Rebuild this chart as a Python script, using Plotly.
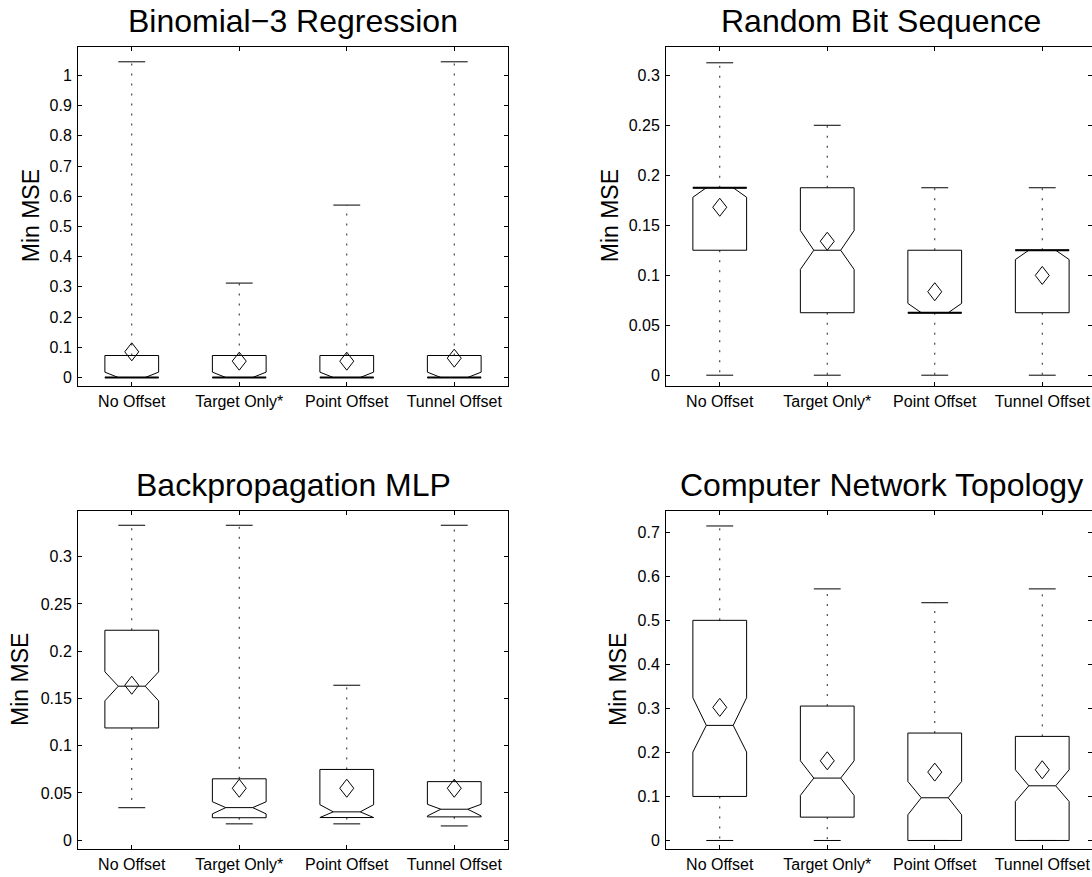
import plotly.graph_objects as go

# ---------------- data ----------------
CATEGORIES = ["No Offset", "Target Only*", "Point Offset", "Tunnel Offset"]
TITLES = ["Binomial\u22123 Regression", "Random Bit Sequence",
          "Backpropagation MLP", "Computer Network Topology"]
Y_LABEL = "Min MSE"

# Binomial-3 Regression
BIN_UPPER = [1.045, 0.3125, 0.5707, 1.045]
BIN_Q3 = [0.0728, 0.0728, 0.0728, 0.0728]
BIN_NOTCH_HI = [0.0177, 0.0177, 0.0177, 0.0177]
BIN_MEDIAN = [0.0, 0.0, 0.0, 0.0]
BIN_NOTCH_LO = [-0.0177, -0.0177, -0.0177, -0.0177]
BIN_Q1 = [0.0, 0.0, 0.0, 0.0]
BIN_LOWER = [0.0, 0.0, 0.0, 0.0]
BIN_MEAN = [0.085, 0.054, 0.054, 0.064]
BIN_YRANGE = [-0.0265, 1.094]
BIN_DTICK = 0.1

# Random Bit Sequence
RBS_UPPER = [0.3125, 0.25, 0.1875, 0.1875]
RBS_Q3 = [0.1875, 0.1875, 0.125, 0.125]
RBS_NOTCH_HI = [0.197, 0.1447, 0.0718, 0.1343]
RBS_MEDIAN = [0.1875, 0.125, 0.0625, 0.125]
RBS_NOTCH_LO = [0.178, 0.1058, 0.0532, 0.1157]
RBS_Q1 = [0.125, 0.0625, 0.0625, 0.0625]
RBS_LOWER = [0.0, 0.0, 0.0, 0.0]
RBS_MEAN = [0.168, 0.134, 0.0835, 0.0998]
RBS_YRANGE = [-0.0103, 0.3283]
RBS_DTICK = 0.05

# Backpropagation MLP
BPM_UPPER = [0.3333, 0.3333, 0.164, 0.3333]
BPM_Q3 = [0.2222, 0.065, 0.0749, 0.062]
BPM_NOTCH_HI = [0.1782, 0.0407, 0.0376, 0.038]
BPM_MEDIAN = [0.163, 0.0345, 0.030, 0.0328]
BPM_NOTCH_LO = [0.1475, 0.0279, 0.0233, 0.0257]
BPM_Q1 = [0.1188, 0.0238, 0.024, 0.0247]
BPM_LOWER = [0.0344, 0.0173, 0.0173, 0.0151]
BPM_MEAN = [0.164, 0.055, 0.055, 0.055]
BPM_YRANGE = [-0.0095, 0.3487]
BPM_DTICK = 0.05

# Computer Network Topology
CNT_UPPER = [0.7143, 0.5714, 0.540, 0.5714]
CNT_Q3 = [0.5, 0.3053, 0.244, 0.2364]
CNT_NOTCH_HI = [0.3242, 0.181, 0.134, 0.1606]
CNT_MEDIAN = [0.2614, 0.1417, 0.097, 0.1242]
CNT_NOTCH_LO = [0.2008, 0.1023, 0.0583, 0.0886]
CNT_Q1 = [0.1, 0.053, 0.0, 0.0]
CNT_LOWER = [0.0, 0.0, 0.0, 0.0]
CNT_MEAN = [0.3023, 0.181, 0.1553, 0.1606]
CNT_YRANGE = [-0.0198, 0.749]
CNT_DTICK = 0.1

PANELS = [
    dict(upper=BIN_UPPER, q3=BIN_Q3, nhi=BIN_NOTCH_HI, med=BIN_MEDIAN, nlo=BIN_NOTCH_LO,
         q1=BIN_Q1, lower=BIN_LOWER, mean=BIN_MEAN, yrange=BIN_YRANGE, dtick=BIN_DTICK),
    dict(upper=RBS_UPPER, q3=RBS_Q3, nhi=RBS_NOTCH_HI, med=RBS_MEDIAN, nlo=RBS_NOTCH_LO,
         q1=RBS_Q1, lower=RBS_LOWER, mean=RBS_MEAN, yrange=RBS_YRANGE, dtick=RBS_DTICK),
    dict(upper=BPM_UPPER, q3=BPM_Q3, nhi=BPM_NOTCH_HI, med=BPM_MEDIAN, nlo=BPM_NOTCH_LO,
         q1=BPM_Q1, lower=BPM_LOWER, mean=BPM_MEAN, yrange=BPM_YRANGE, dtick=BPM_DTICK),
    dict(upper=CNT_UPPER, q3=CNT_Q3, nhi=CNT_NOTCH_HI, med=CNT_MEDIAN, nlo=CNT_NOTCH_LO,
         q1=CNT_Q1, lower=CNT_LOWER, mean=CNT_MEAN, yrange=CNT_YRANGE, dtick=CNT_DTICK),
]

# ---------------- layout geometry (pixels) ----------------
W, H = 1092, 877
AX_X0 = [78, 666, 78, 666]
AX_Y0 = [47, 47, 510.7, 510.7]
AX_W, AX_H = 430, 338.5
PX_PER_CAT = AX_W / 4.0
YLABEL_X = [31, 610, 20, 618]
BOX_HALF = 0.25
NOTCH_HALF = 0.125
CAP_HALF = 0.125
DIAMOND_DX_PX, DIAMOND_DY_PX = 7.0, 9.0

FONT = "Liberation Sans, Arial, Helvetica, sans-serif"
TICK_SIZE = 16
YLABEL_SIZE = 23
TITLE_SIZE = 32

fig = go.Figure()
annotations = []
layout_axes = {}

for k, p in enumerate(PANELS):
    xa = "x" if k == 0 else f"x{k+1}"
    ya = "y" if k == 0 else f"y{k+1}"
    x0 = AX_X0[k]
    x1 = min(W, x0 + AX_W)
    xr = [0.5, 0.5 + (x1 - x0) / PX_PER_CAT]
    y0px = AX_Y0[k]
    yr = p["yrange"]
    px_per_y = AX_H / (yr[1] - yr[0])
    ddx = DIAMOND_DX_PX / PX_PER_CAT
    ddy = DIAMOND_DY_PX / px_per_y

    sx, sy = [], []   # solid lines
    tx, ty = [], []   # coincident (overdrawn) edges
    wx, wy = [], []   # dotted whiskers
    dx_, dy_ = [], [] # diamonds
    for i in range(len(CATEGORIES)):
        c = i + 1
        q1, q3, med = p["q1"][i], p["q3"][i], p["med"][i]
        nlo = max(p["nlo"][i], q1)
        nhi = min(p["nhi"][i], q3)
        w, nw = BOX_HALF, NOTCH_HALF
        # notched outline
        sx += [c - w, c - w, c - nw, c - w, c - w, c + w, c + w, c + nw, c + w, c + w, c - w, None]
        sy += [q1, nlo, med, nhi, q3, q3, nhi, med, nlo, q1, q1, None]
        # median
        sx += [c - nw, c + nw, None]
        sy += [med, med, None]
        # edges where the median coincides with a quartile are overdrawn
        for edge in (q1, q3):
            if abs(edge - med) < 1e-9:
                tx += [c - w, c + w, None]
                ty += [edge, edge, None]
        # caps
        up, lo = p["upper"][i], p["lower"][i]
        sx += [c - CAP_HALF, c + CAP_HALF, None, c - CAP_HALF, c + CAP_HALF, None]
        sy += [up, up, None, lo, lo, None]
        # whiskers
        wx += [c, c, None, c, c, None]
        wy += [q3, up, None, q1, lo, None]
        # mean diamond
        m = p["mean"][i]
        dx_ += [c, c + ddx, c, c - ddx, c, None]
        dy_ += [m + ddy, m, m - ddy, m, m + ddy, None]

    fig.add_trace(go.Scatter(x=wx, y=wy, mode="lines", xaxis=xa, yaxis=ya,
                             line=dict(color="#222", width=1, dash="2px,8px"),
                             hoverinfo="skip", showlegend=False))
    fig.add_trace(go.Scatter(x=sx, y=sy, mode="lines", xaxis=xa, yaxis=ya,
                             line=dict(color="black", width=1),
                             hoverinfo="skip", showlegend=False))
    if tx:
        fig.add_trace(go.Scatter(x=tx, y=ty, mode="lines", xaxis=xa, yaxis=ya,
                                 line=dict(color="black", width=2),
                                 hoverinfo="skip", showlegend=False))
    fig.add_trace(go.Scatter(x=dx_, y=dy_, mode="lines", xaxis=xa, yaxis=ya,
                             line=dict(color="black", width=1),
                             hoverinfo="skip", showlegend=False))

    common = dict(showline=True, linecolor="black", linewidth=1, mirror="ticks",
                  ticks="inside", ticklen=4, tickcolor="black", tickwidth=1,
                  showgrid=False, zeroline=False, fixedrange=True,
                  tickfont=dict(family=FONT, size=TICK_SIZE, color="black"))
    layout_axes["xaxis" if k == 0 else f"xaxis{k+1}"] = dict(
        common, domain=[x0 / W, x1 / W], range=xr, anchor=ya,
        tickmode="array", tickvals=[1, 2, 3, 4], ticktext=CATEGORIES,
        ticklabelstandoff=1)
    layout_axes["yaxis" if k == 0 else f"yaxis{k+1}"] = dict(
        common, domain=[1 - (y0px + AX_H) / H, 1 - y0px / H], range=yr, anchor=xa,
        tick0=0, dtick=p["dtick"], ticklabelstandoff=2)

    # title
    cx = (x0 + AX_W / 2) / W
    annotations.append(dict(text=TITLES[k], xref="paper", yref="paper",
                            x=cx, y=1 - (y0px - 6) / H, xanchor="center", yanchor="bottom",
                            showarrow=False,
                            font=dict(family=FONT, size=TITLE_SIZE, color="black")))
    # y label
    annotations.append(dict(text=Y_LABEL, xref="paper", yref="paper",
                            x=YLABEL_X[k] / W, y=1 - (y0px + AX_H / 2) / H,
                            xanchor="center", yanchor="middle", textangle=-90,
                            showarrow=False,
                            font=dict(family=FONT, size=YLABEL_SIZE, color="black")))

fig.update_layout(width=W, height=H, margin=dict(l=0, r=0, t=0, b=0),
                  paper_bgcolor="white", plot_bgcolor="white",
                  annotations=annotations, **layout_axes)

fig.write_html("out.html", config={"displayModeBar": False})
